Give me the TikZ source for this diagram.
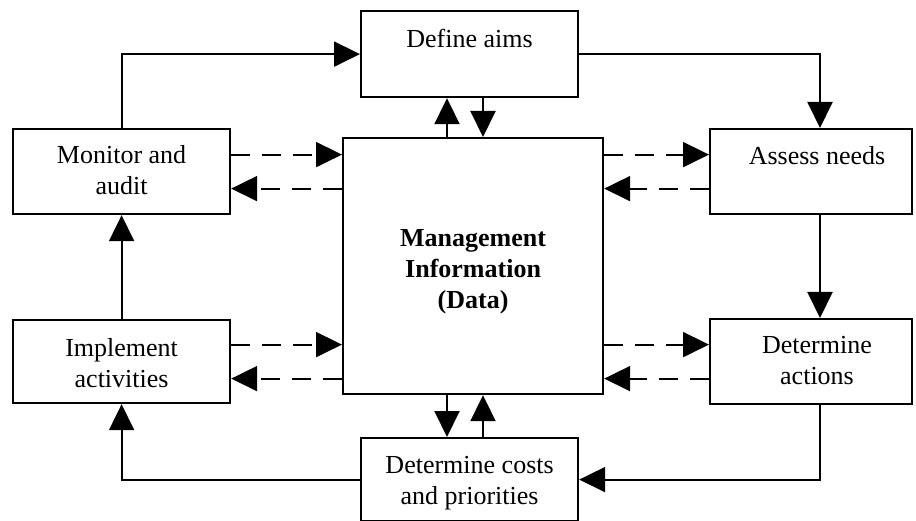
\documentclass[tikz,border=0pt]{standalone}
\usepackage{fontspec}
\setmainfont{Liberation Serif}
\usetikzlibrary{arrows.meta}
\begin{document}
\begin{tikzpicture}[x=1pt,y=-1pt,
  box/.style={draw,line width=2.2pt,inner sep=0pt,anchor=north west},
  txt/.style={inner sep=0pt,anchor=north,align=center,font=\fontsize{26}{31}\selectfont},
  arr/.style={line width=2pt,-{Triangle[length=26pt,width=25pt]}},
  darr/.style={line width=2pt,dash pattern=on 19pt off 12pt,-{Triangle[length=26pt,width=25pt]}}]
\useasboundingbox (0,0) rectangle (916,521);
% boxes
\node[box,minimum width=217pt,minimum height=86pt] (da) at (360,10) {};
\node[box,minimum width=217pt,minimum height=85pt] (ma) at (12,128) {};
\node[box,minimum width=202pt,minimum height=85pt] (an) at (709,128) {};
\node[box,minimum width=260pt,minimum height=256pt] (mi) at (342,137) {};
\node[box,minimum width=217pt,minimum height=83pt] (im) at (12,319) {};
\node[box,minimum width=202pt,minimum height=85pt] (dac) at (709,318) {};
\node[box,minimum width=217pt,minimum height=83pt] (dc) at (360,437) {};
% texts
\node[txt] (dat) at ([yshift=-19pt]da.north) {Define aims};
\node[txt] (mat) at ([yshift=-17pt]ma.north) {Monitor and\\audit};
\node[txt] (ant) at ([yshift=-18pt]an.north -| 817,0) {Assess needs};
\node[txt] (imt) at ([yshift=-19pt]im.north) {Implement\\activities};
\node[txt] (dact) at ([yshift=-18pt]dac.north -| 817,0) {Determine\\actions};
\node[txt] (dct) at ([yshift=-19pt]dc.north) {Determine costs\\and priorities};
\node[inner sep=0pt,align=center,font=\fontsize{26}{31}\selectfont\bfseries] (mit) at ([yshift=-6pt]mi.center) {Management\\Information\\(Data)};
% helper columns
\coordinate (rc) at (820,0);
\coordinate (lx) at (447,0);
\coordinate (rx) at (483,0);
% main cycle
\draw[arr] (ma.north) |- (da.west);
\draw[arr] (da.east) -| (rc |- an.north);
\draw[arr] (rc |- an.south) -- (rc |- dac.north);
\draw[arr] (rc |- dac.south) |- (dc.east);
\draw[arr] (dc.west) -| (im.south);
\draw[arr] (im.north) -- (ma.south);
% links with management information
\draw[arr] (lx |- mi.north) -- (lx |- da.south);
\draw[arr] (rx |- da.south) -- (rx |- mi.north);
\draw[arr] (lx |- mi.south) -- (lx |- dc.north);
\draw[arr] (rx |- dc.north) -- (rx |- mi.south);
% dashed exchanges
\draw[darr] ([yshift=17pt]ma.east) -- ([yshift=17pt]ma.east -| mi.west);
\draw[darr] ([yshift=-17pt]ma.east -| mi.west) -- ([yshift=-17pt]ma.east);
\draw[darr] ([yshift=17pt]im.east) -- ([yshift=17pt]im.east -| mi.west);
\draw[darr] ([yshift=-17pt]im.east -| mi.west) -- ([yshift=-17pt]im.east);
\draw[darr] ([yshift=17pt]an.west -| mi.east) -- ([yshift=17pt]an.west);
\draw[darr] ([yshift=-17pt]an.west) -- ([yshift=-17pt]an.west -| mi.east);
\draw[darr] ([yshift=17pt]dac.west -| mi.east) -- ([yshift=17pt]dac.west);
\draw[darr] ([yshift=-17pt]dac.west) -- ([yshift=-17pt]dac.west -| mi.east);
\end{tikzpicture}
\end{document}
